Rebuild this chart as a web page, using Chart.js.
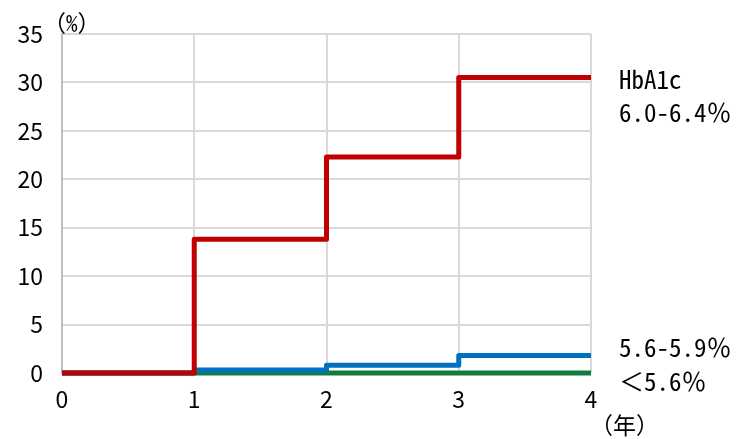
<!DOCTYPE html>
<html><head><meta charset="utf-8">
<script src="https://cdn.jsdelivr.net/npm/chart.js@4/dist/chart.umd.min.js"></script>
<style>html,body{margin:0;padding:0;background:#fff}canvas{display:block}</style>
</head><body>
<canvas id="c" width="741" height="439"></canvas>
<script>
const years = [0, 1, 2, 3, 4];
const hbHigh = [0, 13.8, 22.3, 30.5, 30.5];   // HbA1c 6.0-6.4%
const hbMid = [0, 0.3, 0.8, 1.8, 1.8];        // 5.6-5.9%
const hbLow = [0, 0, 0, 0, 0];                // <5.6%
const yTicks = [0, 5, 10, 15, 20, 25, 30, 35];
const seriesLabels = [["HbA1c", "6.0-6.4％"], ["5.6-5.9％"], ["＜5.6％"]];
const yUnit = "（%）";
const xUnit = "（年）";

const tickFont = {family: "'Noto Sans CJK JP', 'Noto Sans', sans-serif", size: 23};
const labelFontStr = "25px 'Noto Sans Mono CJK JP', 'Noto Sans CJK JP', 'Liberation Mono', monospace";
const unitFontStr = "23px 'Noto Sans Mono CJK JP', 'Noto Sans CJK JP', sans-serif";

const pts = arr => years.map((x, i) => ({x, y: arr[i]}));

const labelPlugin = {
  id: 'labels',
  afterDraw(chart) {
    const ctx = chart.ctx;
    const ys = chart.scales.y;
    const ca = chart.chartArea;
    ctx.save();
    ctx.fillStyle = '#000';
    ctx.font = labelFontStr;
    ctx.textBaseline = 'middle';
    ctx.textAlign = 'left';
    const lx = ca.right + 28;
    const yHigh = ys.getPixelForValue(hbHigh[hbHigh.length - 1]);
    ctx.fillText(seriesLabels[0][0], lx, yHigh + 2);
    ctx.fillText(seriesLabels[0][1], lx, yHigh + 35);
    const yMid = ys.getPixelForValue(hbMid[hbMid.length - 1]);
    ctx.fillText(seriesLabels[1][0], lx, yMid - 8);
    const yLow = ys.getPixelForValue(hbLow[hbLow.length - 1]);
    ctx.fillText(seriesLabels[2][0], lx, yLow + 8);
    ctx.font = unitFontStr;
    ctx.fillText(yUnit, ca.left - 19, ca.top - 11);
    ctx.fillText(xUnit, ca.right - 1, ca.bottom + 52);
    ctx.restore();
  }
};

const common = {borderWidth: 5, stepped: 'before', pointRadius: 0, borderJoinStyle: 'round', fill: false, clip: 8};

new Chart(document.getElementById('c'), {
  type: 'line',
  data: {
    datasets: [
      Object.assign({data: pts(hbHigh), borderColor: '#c00000'}, common),
      Object.assign({data: pts(hbMid), borderColor: '#0070c0'}, common),
      Object.assign({data: pts(hbLow), borderColor: '#107c41'}, common)
    ]
  },
  options: {
    responsive: false,
    animation: false,
    events: [],
    layout: {padding: {top: 34, right: 150, left: 0, bottom: 0}},
    plugins: {legend: {display: false}, tooltip: {enabled: false}},
    scales: {
      x: {
        type: 'linear', min: 0, max: 4,
        afterFit(s) { s.height = 66; },
        afterBuildTicks(s) { s.ticks = years.map(v => ({value: v})); },
        grid: {color: '#d9d9d9', lineWidth: 2, drawTicks: false},
        border: {display: false},
        ticks: {font: tickFont, color: '#000', padding: 12, maxRotation: 0}
      },
      y: {
        min: 0, max: 35,
        afterFit(s) { s.width = 62; },
        afterBuildTicks(s) { s.ticks = yTicks.map(v => ({value: v})); },
        grid: {color: '#d9d9d9', lineWidth: 2, drawTicks: false},
        border: {display: true, color: '#bfbfbf', width: 2},
        ticks: {font: tickFont, color: '#000', padding: 19}
      }
    }
  },
  plugins: [labelPlugin]
});
</script>
</body></html>
